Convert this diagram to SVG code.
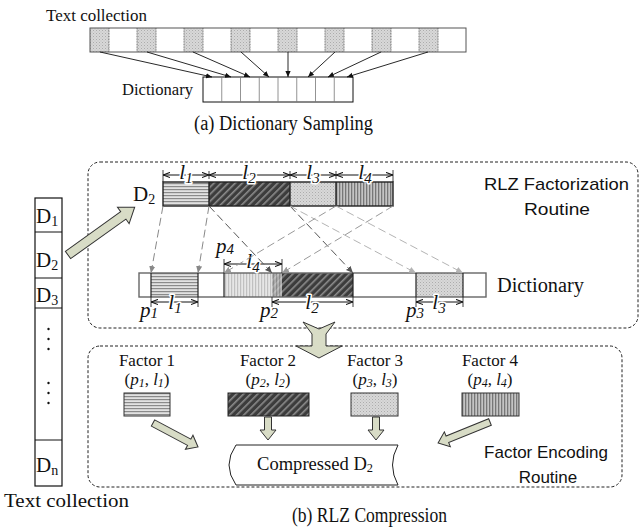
<svg xmlns="http://www.w3.org/2000/svg" width="639" height="531" viewBox="0 0 639 531">
  <defs>
    <style>
      .serif { font-family: "Liberation Serif", "Times New Roman", serif; fill: #111; }
      .sans { font-family: "Liberation Sans", Arial, sans-serif; fill: #111; }
      .it { font-style: italic; }
      .lbl { paint-order: stroke; stroke: #fff; stroke-width: 3px; stroke-linejoin: round; }
      .dim { stroke: #111; stroke-width: 1; fill: none; marker-start: url(#dimHead); marker-end: url(#dimHead); }
      .tick { stroke: #111; stroke-width: 0.8; }
      .box { fill: none; stroke: #222; stroke-width: 1; stroke-dasharray: 3 2; }
      .block { fill: #d8dcc6; stroke: #333; stroke-width: 1; stroke-linejoin: miter; }
      .dash { fill: none; stroke-width: 1; stroke-dasharray: 8 4; }
      .samp { stroke: #111; stroke-width: 0.9; fill: none; marker-end: url(#sampHead); }
    </style>
    <!-- fill patterns for the four factors -->
    <pattern id="hLines" width="4" height="3" patternUnits="userSpaceOnUse">
      <rect width="4" height="3" fill="#e2e2e2"/>
      <rect y="0" width="4" height="1.2" fill="#8a8a8a"/>
    </pattern>
    <pattern id="hatch" width="5" height="5" patternUnits="userSpaceOnUse" patternTransform="rotate(45)">
      <rect width="5" height="5" fill="#3c3c3c"/>
      <rect x="0" width="1.6" height="5" fill="#8c8c8c"/>
    </pattern>
    <pattern id="stipple" width="3" height="3" patternUnits="userSpaceOnUse">
      <rect width="3" height="3" fill="#d8d8d8"/>
      <rect x="0" y="0" width="1" height="1" fill="#acacac"/>
      <rect x="1.5" y="1.5" width="1" height="1" fill="#bdbdbd"/>
    </pattern>
    <pattern id="vLines" width="3" height="4" patternUnits="userSpaceOnUse">
      <rect width="3" height="4" fill="#c4c4c4"/>
      <rect x="0" width="1.3" height="4" fill="#777"/>
    </pattern>
    <pattern id="vLinesLight" width="3" height="4" patternUnits="userSpaceOnUse">
      <rect width="3" height="4" fill="#dcdcdc"/>
      <rect x="0" width="1.2" height="4" fill="#a8a8a8"/>
    </pattern>
    <marker id="dimHead" viewBox="0 0 8 8" refX="8" refY="4" markerWidth="7" markerHeight="7" markerUnits="userSpaceOnUse" orient="auto-start-reverse">
      <path d="M0,1 L8,4 L0,7" fill="none" stroke="#111" stroke-width="1.2"/>
    </marker>
    <marker id="sampHead" viewBox="0 0 8 8" refX="8" refY="4" markerWidth="6" markerHeight="6" markerUnits="userSpaceOnUse" orient="auto">
      <path d="M0,0.5 L8,4 L0,7.5 Z" fill="#111"/>
    </marker>
    <marker id="hd888" viewBox="0 0 8 8" refX="8" refY="4" markerWidth="7" markerHeight="7" markerUnits="userSpaceOnUse" orient="auto">
      <path d="M0,0.5 L8,4 L0,7.5 Z" fill="#888"/>
    </marker>
    <marker id="hd555" viewBox="0 0 8 8" refX="8" refY="4" markerWidth="7" markerHeight="7" markerUnits="userSpaceOnUse" orient="auto">
      <path d="M0,0.5 L8,4 L0,7.5 Z" fill="#555"/>
    </marker>
    <marker id="hdbbb" viewBox="0 0 8 8" refX="8" refY="4" markerWidth="7" markerHeight="7" markerUnits="userSpaceOnUse" orient="auto">
      <path d="M0,0.5 L8,4 L0,7.5 Z" fill="#b4b4b4"/>
    </marker>
    <marker id="hd999" viewBox="0 0 8 8" refX="8" refY="4" markerWidth="7" markerHeight="7" markerUnits="userSpaceOnUse" orient="auto">
      <path d="M0,0.5 L8,4 L0,7.5 Z" fill="#999"/>
    </marker>
  </defs>

  <rect width="639" height="531" fill="#fff"/>

  <!-- ===== (a) Dictionary sampling ===== -->
  <g id="text-collection-a">
    <text class="serif" x="46" y="21" font-size="16" textLength="101" lengthAdjust="spacingAndGlyphs">Text collection</text>
    <rect x="90" y="28" width="376" height="24" fill="#fff"/>
    <g fill="url(#stipple)">
      <rect x="90" y="28" width="19" height="24"/>
      <rect x="137" y="28" width="19" height="24"/>
      <rect x="184" y="28" width="19" height="24"/>
      <rect x="231" y="28" width="19" height="24"/>
      <rect x="278" y="28" width="19" height="24"/>
      <rect x="325" y="28" width="19" height="24"/>
      <rect x="372" y="28" width="19" height="24"/>
      <rect x="419" y="28" width="19" height="24"/>
    </g>
    <g stroke="#666" stroke-width="0.9" stroke-dasharray="1 0.6">
      <line x1="109" y1="28" x2="109" y2="52"/><line x1="137" y1="28" x2="137" y2="52"/>
      <line x1="156" y1="28" x2="156" y2="52"/><line x1="184" y1="28" x2="184" y2="52"/>
      <line x1="203" y1="28" x2="203" y2="52"/><line x1="231" y1="28" x2="231" y2="52"/>
      <line x1="250" y1="28" x2="250" y2="52"/><line x1="278" y1="28" x2="278" y2="52"/>
      <line x1="297" y1="28" x2="297" y2="52"/><line x1="325" y1="28" x2="325" y2="52"/>
      <line x1="344" y1="28" x2="344" y2="52"/><line x1="372" y1="28" x2="372" y2="52"/>
      <line x1="391" y1="28" x2="391" y2="52"/><line x1="419" y1="28" x2="419" y2="52"/>
      <line x1="438" y1="28" x2="438" y2="52"/>
    </g>
    <rect x="90" y="28" width="376" height="24" fill="none" stroke="#555" stroke-width="1"/>
  </g>

  <g id="dictionary-a">
    <text class="serif" x="122" y="95" font-size="17" textLength="71" lengthAdjust="spacingAndGlyphs">Dictionary</text>
    <rect x="203" y="77" width="150" height="25" fill="#fff" stroke="#111" stroke-width="1"/>
    <g stroke="#777" stroke-width="0.8">
      <line x1="221.75" y1="77" x2="221.75" y2="102"/><line x1="240.5" y1="77" x2="240.5" y2="102"/>
      <line x1="259.25" y1="77" x2="259.25" y2="102"/><line x1="278" y1="77" x2="278" y2="102"/>
      <line x1="296.75" y1="77" x2="296.75" y2="102"/><line x1="315.5" y1="77" x2="315.5" y2="102"/>
      <line x1="334.25" y1="77" x2="334.25" y2="102"/>
    </g>
  </g>

  <g id="sampling-arrows">
    <line class="samp" x1="100" y1="52" x2="212" y2="77"/>
    <line class="samp" x1="147" y1="52" x2="231" y2="77"/>
    <line class="samp" x1="193" y1="52" x2="250" y2="77"/>
    <line class="samp" x1="241" y1="52" x2="269" y2="77"/>
    <line class="samp" x1="288" y1="52" x2="288" y2="77"/>
    <line class="samp" x1="335" y1="52" x2="308" y2="77"/>
    <line class="samp" x1="381" y1="52" x2="328" y2="77"/>
    <line class="samp" x1="428" y1="52" x2="347" y2="77"/>
  </g>

  <text class="serif" x="194" y="130" font-size="20" textLength="179" lengthAdjust="spacingAndGlyphs">(a) Dictionary Sampling</text>

  <!-- ===== (b) RLZ compression ===== -->
  <g id="routine-boxes">
    <rect class="box" x="88" y="162" width="550" height="166" rx="12"/>
    <rect class="box" x="88" y="346" width="534" height="141" rx="12"/>
  </g>

  <g id="text-collection-b">
    <rect x="35" y="198" width="27" height="288" fill="#fff" stroke="#111" stroke-width="1.2"/>
    <g stroke="#111" stroke-width="1">
      <line x1="35" y1="232" x2="62" y2="232"/>
      <line x1="35" y1="278" x2="62" y2="278"/>
      <line x1="35" y1="308" x2="62" y2="308"/>
      <line x1="35" y1="440" x2="62" y2="440"/>
    </g>
    <text class="serif" x="36" y="223" font-size="21">D<tspan font-size="14" dy="3">1</tspan></text>
    <text class="serif" x="36" y="267" font-size="21">D<tspan font-size="14" dy="3">2</tspan></text>
    <text class="serif" x="36" y="302" font-size="21">D<tspan font-size="14" dy="3">3</tspan></text>
    <text class="serif" x="36" y="472" font-size="21">D<tspan font-size="14" dy="3">n</tspan></text>
    <g fill="#111">
      <circle cx="48.5" cy="329" r="1.2"/><circle cx="48.5" cy="339" r="1.2"/><circle cx="48.5" cy="349" r="1.2"/>
      <circle cx="48.5" cy="383" r="1.2"/><circle cx="48.5" cy="393" r="1.2"/><circle cx="48.5" cy="403" r="1.2"/>
    </g>
    <text class="serif" x="4" y="507" font-size="19" textLength="125" lengthAdjust="spacingAndGlyphs">Text collection</text>
  </g>

  <!-- D2 split into four factors -->
  <g id="d2-factors">
    <text class="serif" x="133" y="201" font-size="21">D<tspan font-size="14" dy="3">2</tspan></text>
    <rect x="163" y="182" width="46" height="24" fill="url(#hLines)"/>
    <rect x="209" y="182" width="81" height="24" fill="url(#hatch)"/>
    <rect x="290" y="182" width="46" height="24" fill="url(#stipple)"/>
    <rect x="336" y="182" width="57" height="24" fill="url(#vLines)"/>
    <g fill="none" stroke="#222" stroke-width="1.4">
      <rect x="163" y="182" width="230" height="24"/>
      <line x1="209" y1="182" x2="209" y2="206"/>
      <line x1="290" y1="182" x2="290" y2="206"/>
      <line x1="336" y1="182" x2="336" y2="206"/>
    </g>
    <g class="tick">
      <line x1="163" y1="170" x2="163" y2="182"/><line x1="209" y1="171" x2="209" y2="179"/>
      <line x1="290" y1="171" x2="290" y2="179"/><line x1="336" y1="171" x2="336" y2="179"/>
      <line x1="393" y1="170" x2="393" y2="182"/>
    </g>
    <line class="dim" x1="163" y1="175" x2="209" y2="175"/>
    <line class="dim" x1="209" y1="175" x2="290" y2="175"/>
    <line class="dim" x1="290" y1="175" x2="336" y2="175"/>
    <line class="dim" x1="336" y1="175" x2="393" y2="175"/>
    <text class="serif it lbl" x="186" y="179" font-size="21" text-anchor="middle">l<tspan font-size="15" dy="4">1</tspan></text>
    <text class="serif it lbl" x="249" y="179" font-size="21" text-anchor="middle">l<tspan font-size="15" dy="4">2</tspan></text>
    <text class="serif it lbl" x="313" y="179" font-size="21" text-anchor="middle">l<tspan font-size="15" dy="4">3</tspan></text>
    <text class="serif it lbl" x="365" y="179" font-size="21" text-anchor="middle">l<tspan font-size="15" dy="4">4</tspan></text>
  </g>

  <!-- dictionary with matched positions -->
  <g id="dictionary-b">
    <rect x="139" y="273" width="347" height="24" fill="#fff"/>
    <rect x="151" y="273" width="47" height="24" fill="url(#hLines)"/>
    <rect x="272" y="273" width="81" height="24" fill="url(#hatch)"/>
    <rect x="224" y="273" width="58" height="24" fill="url(#vLinesLight)" opacity="0.72"/>
    <rect x="416" y="273" width="47" height="24" fill="url(#stipple)"/>
    <g fill="none">
      <rect x="139" y="273" width="347" height="24" stroke="#666" stroke-width="1.4"/>
      <g stroke="#222" stroke-width="1.2">
        <line x1="151" y1="273" x2="151" y2="297"/><line x1="198" y1="273" x2="198" y2="297"/>
        <line x1="224" y1="273" x2="224" y2="297"/><line x1="353" y1="273" x2="353" y2="297"/>
        <line x1="416" y1="273" x2="416" y2="297"/><line x1="463" y1="273" x2="463" y2="297"/>
      </g>
    </g>
    <text class="serif" x="497" y="292" font-size="20" textLength="87" lengthAdjust="spacingAndGlyphs">Dictionary</text>
    <g class="tick" stroke="#777">
      <line x1="151" y1="297" x2="151" y2="307"/><line x1="198" y1="297" x2="198" y2="307"/>
      <line x1="272" y1="297" x2="272" y2="307"/><line x1="353" y1="297" x2="353" y2="307"/>
      <line x1="416" y1="297" x2="416" y2="307"/><line x1="463" y1="297" x2="463" y2="307"/>
      <line x1="224" y1="259" x2="224" y2="273"/><line x1="282" y1="259" x2="282" y2="273"/>
    </g>
    <line class="dim" x1="151" y1="302" x2="198" y2="302"/>
    <line class="dim" x1="272" y1="302" x2="353" y2="302"/>
    <line class="dim" x1="416" y1="302" x2="463" y2="302"/>
    <line class="dim" x1="224" y1="264" x2="282" y2="264"/>
    <text class="serif it lbl" x="175" y="309" font-size="21" text-anchor="middle">l<tspan font-size="15" dy="4">1</tspan></text>
    <text class="serif it lbl" x="312" y="309" font-size="21" text-anchor="middle">l<tspan font-size="15" dy="4">2</tspan></text>
    <text class="serif it lbl" x="439" y="309" font-size="21" text-anchor="middle">l<tspan font-size="15" dy="4">3</tspan></text>
    <text class="serif it lbl" x="253" y="268" font-size="21" text-anchor="middle">l<tspan font-size="15" dy="4">4</tspan></text>
    <text class="serif it" x="140" y="317" font-size="21">p<tspan font-size="15" dy="1">1</tspan></text>
    <text class="serif it" x="260" y="317" font-size="21">p<tspan font-size="15" dy="1">2</tspan></text>
    <text class="serif it" x="406" y="317" font-size="21">p<tspan font-size="15" dy="1">3</tspan></text>
    <text class="serif it" x="216" y="253" font-size="21">p<tspan font-size="15" dy="1">4</tspan></text>
  </g>

  <text class="sans" x="484" y="190" font-size="17" textLength="145" lengthAdjust="spacingAndGlyphs">RLZ Factorization</text>
  <text class="sans" x="524" y="215" font-size="17" textLength="66" lengthAdjust="spacingAndGlyphs">Routine</text>

  <!-- factors in the encoding routine -->
  <g id="factor-1">
    <text class="serif" x="147" y="366" font-size="17" text-anchor="middle">Factor 1</text>
    <text class="serif" x="147" y="385" font-size="17" text-anchor="middle">(<tspan class="it">p</tspan><tspan class="it" font-size="12" dy="2">1</tspan><tspan dy="-2">, </tspan><tspan class="it">l</tspan><tspan class="it" font-size="12" dy="2">1</tspan><tspan dy="-2">)</tspan></text>
    <rect x="124" y="393" width="46" height="23" fill="url(#hLines)" stroke="#333" stroke-width="1"/>
  </g>
  <g id="factor-2">
    <text class="serif" x="268" y="366" font-size="17" text-anchor="middle">Factor 2</text>
    <text class="serif" x="268" y="385" font-size="17" text-anchor="middle">(<tspan class="it">p</tspan><tspan class="it" font-size="12" dy="2">2</tspan><tspan dy="-2">, </tspan><tspan class="it">l</tspan><tspan class="it" font-size="12" dy="2">2</tspan><tspan dy="-2">)</tspan></text>
    <rect x="228" y="393" width="81" height="23" fill="url(#hatch)" stroke="#222" stroke-width="1"/>
  </g>
  <g id="factor-3">
    <text class="serif" x="375" y="366" font-size="17" text-anchor="middle">Factor 3</text>
    <text class="serif" x="375" y="385" font-size="17" text-anchor="middle">(<tspan class="it">p</tspan><tspan class="it" font-size="12" dy="2">3</tspan><tspan dy="-2">, </tspan><tspan class="it">l</tspan><tspan class="it" font-size="12" dy="2">3</tspan><tspan dy="-2">)</tspan></text>
    <rect x="351" y="393" width="47" height="23" fill="url(#stipple)" stroke="#333" stroke-width="1"/>
  </g>
  <g id="factor-4">
    <text class="serif" x="490" y="366" font-size="17" text-anchor="middle">Factor 4</text>
    <text class="serif" x="490" y="385" font-size="17" text-anchor="middle">(<tspan class="it">p</tspan><tspan class="it" font-size="12" dy="2">4</tspan><tspan dy="-2">, </tspan><tspan class="it">l</tspan><tspan class="it" font-size="12" dy="2">4</tspan><tspan dy="-2">)</tspan></text>
    <rect x="462" y="393" width="57" height="23" fill="url(#vLines)" stroke="#333" stroke-width="1"/>
  </g>

  <g id="compressed-d2">
    <path d="M236,445 L398,445 Q387,465 398,485 L236,485 Q222,465 236,445 Z" fill="#fff" stroke="#222" stroke-width="1"/>
    <text class="serif" x="257" y="470" font-size="18" textLength="116" lengthAdjust="spacingAndGlyphs">Compressed D<tspan font-size="12" dy="2">2</tspan></text>
  </g>

  <text class="sans" x="546" y="458" font-size="17" text-anchor="middle">Factor Encoding</text>
  <text class="sans" x="548" y="483" font-size="17" text-anchor="middle">Routine</text>

  <!-- connectors -->
  <g id="connectors">
    <line class="dash" stroke="#888" x1="163" y1="206" x2="151" y2="273" marker-end="url(#hd888)"/>
    <line class="dash" stroke="#888" x1="209" y1="206" x2="198" y2="273" marker-end="url(#hd888)"/>
    <line class="dash" stroke="#555" x1="209" y1="206" x2="272" y2="273" marker-end="url(#hd555)"/>
    <line class="dash" stroke="#555" x1="290" y1="206" x2="353" y2="273" marker-end="url(#hd555)"/>
    <line class="dash" stroke="#b4b4b4" x1="290" y1="206" x2="416" y2="273" marker-end="url(#hdbbb)"/>
    <line class="dash" stroke="#b4b4b4" x1="336" y1="206" x2="463" y2="273" marker-end="url(#hdbbb)"/>
    <line class="dash" stroke="#999" x1="336" y1="206" x2="224" y2="273" marker-end="url(#hd999)"/>
    <line class="dash" stroke="#999" x1="393" y1="206" x2="282" y2="273" marker-end="url(#hd999)"/>

    <!-- block arrows -->
    <path class="block" transform="translate(68,255) rotate(-35.6)" d="M0,-4.5 L68,-4.5 L68,-10 L82,0 L68,10 L68,4.5 L0,4.5 Z"/>
    <path class="block" d="M303,322 L319,329 L335,322 L326,334 L326,346 L342,346 L319,358 L296,346 L312,346 L312,334 Z"/>
    <path class="block" transform="translate(153,423) rotate(28)" d="M0,-3.5 L41,-3.5 L41,-8 L51,0 L41,8 L41,3.5 L0,3.5 Z"/>
    <path class="block" transform="translate(268,417) rotate(90)" d="M0,-3.5 L13,-3.5 L13,-8 L23,0 L13,8 L13,3.5 L0,3.5 Z"/>
    <path class="block" transform="translate(376,417) rotate(90)" d="M0,-3.5 L13,-3.5 L13,-8 L23,0 L13,8 L13,3.5 L0,3.5 Z"/>
    <path class="block" transform="translate(490,422) rotate(158)" d="M0,-3.5 L46,-3.5 L46,-8 L56,0 L46,8 L46,3.5 L0,3.5 Z"/>
  </g>

  <text class="serif" x="292" y="522" font-size="20" textLength="155" lengthAdjust="spacingAndGlyphs">(b) RLZ Compression</text>
</svg>
